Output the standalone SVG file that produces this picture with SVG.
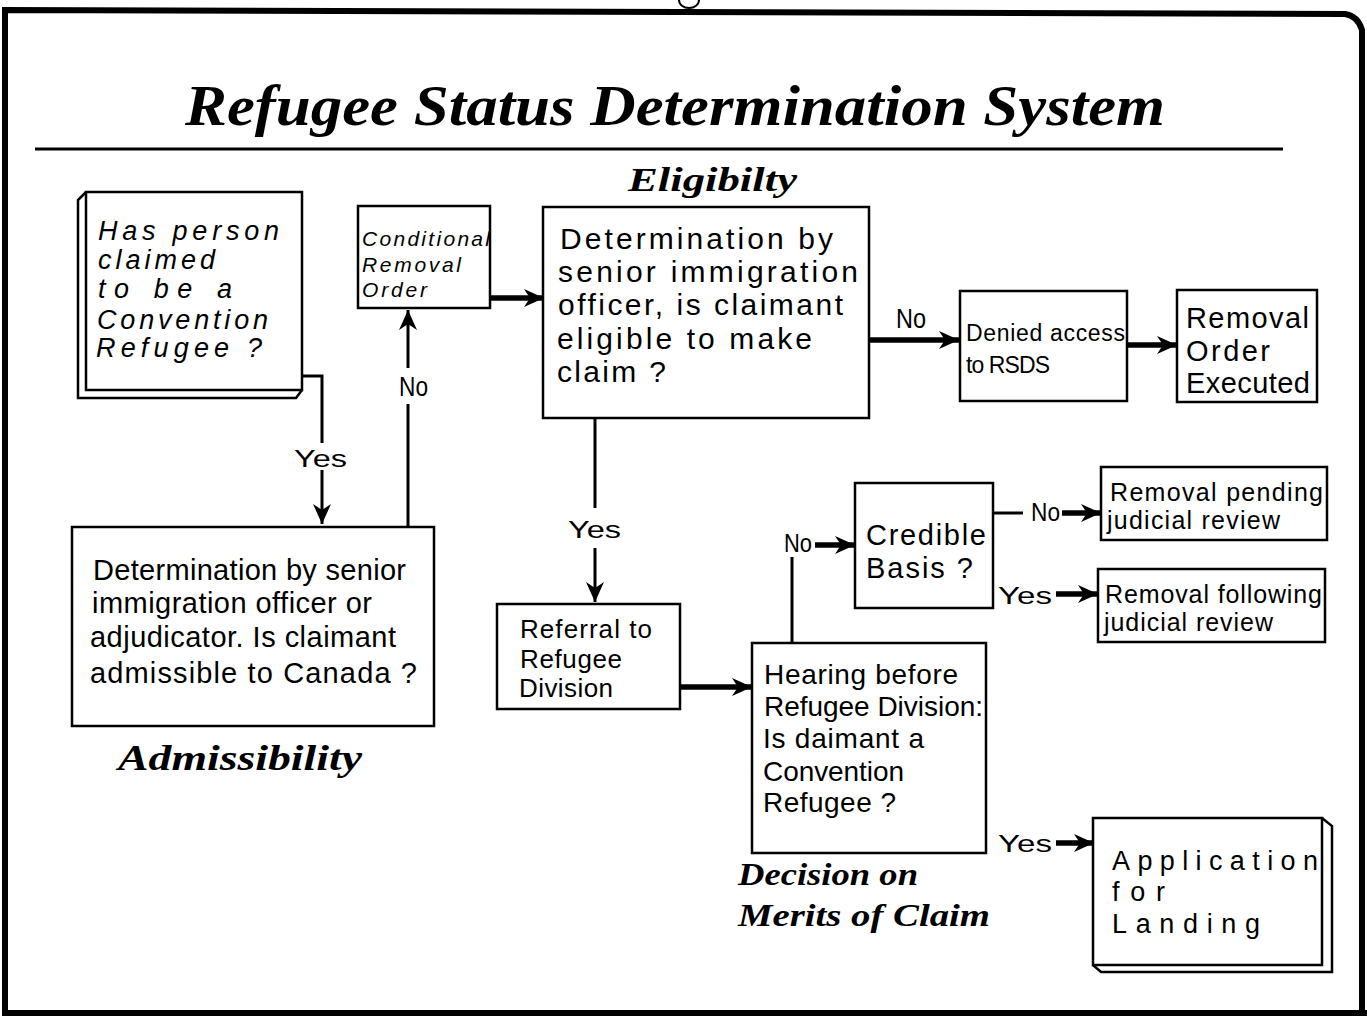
<svg xmlns="http://www.w3.org/2000/svg" width="1367" height="1017" viewBox="0 0 1367 1017">
<defs>
<style>
.box{fill:#fff;stroke:#000;stroke-width:2.5}
.t{font-family:"Liberation Sans","DejaVu Sans",sans-serif;fill:#000}
.it{font-family:"Liberation Sans","DejaVu Sans",sans-serif;font-style:italic;fill:#000}
.scr{font-family:"Liberation Serif","DejaVu Serif",serif;font-style:italic;font-weight:bold;fill:#000}
.lbl{font-family:"Liberation Sans","DejaVu Sans",sans-serif;fill:#000}
.ln{fill:none;stroke:#000;stroke-width:3}
.thk{fill:none;stroke:#000;stroke-width:5.5}
</style>
<marker id="ah" markerUnits="userSpaceOnUse" markerWidth="22" markerHeight="20" refX="20" refY="10" orient="auto" viewBox="0 0 22 20">
<path d="M0,1 L20,10 L0,19 L6,10 z" fill="#000"/>
</marker>
</defs>
<rect width="1367" height="1017" fill="#fff"/>
<!-- frame -->
<path d="M5,1013 V10 L1345,14 Q1358,16 1362,30 V1013" fill="none" stroke="#000" stroke-width="6"/>
<line x1="2" y1="1013" x2="1367" y2="1013" stroke="#000" stroke-width="6"/>
<path d="M679,0 A10,8 0 0 0 699,0" fill="none" stroke="#000" stroke-width="2"/>
<!-- title -->
<text class="scr" x="185" y="125" font-size="56" textLength="980" lengthAdjust="spacingAndGlyphs">Refugee  Status  Determination  System</text>
<line x1="35" y1="149" x2="1283" y2="149" stroke="#000" stroke-width="3"/>
<text class="scr" x="628" y="191" font-size="34" textLength="169" lengthAdjust="spacingAndGlyphs">Eligibilty</text>
<text class="scr" x="118" y="770" font-size="36" textLength="244" lengthAdjust="spacingAndGlyphs">Admissibility</text>
<text class="scr" x="738" y="885" font-size="32" textLength="180" lengthAdjust="spacingAndGlyphs">Decision  on</text>
<text class="scr" x="738" y="926" font-size="32" textLength="252" lengthAdjust="spacingAndGlyphs">Merits  of  Claim</text>

<g id="connectors">
<path class="ln" d="M300,376 H322 V443"/>
<path class="ln" d="M322,470 V524" marker-end="url(#ah)"/>
<path class="ln" d="M408,527 V404"/>
<path class="ln" d="M408,368 V310" marker-end="url(#ah)"/>
<path class="thk" d="M490,298 H544" marker-end="url(#ah)"/>
<path class="thk" d="M868,340 H959" marker-end="url(#ah)"/>
<path class="thk" d="M1127,345 H1177" marker-end="url(#ah)"/>
<path class="ln" d="M595,418 V508"/>
<path class="ln" d="M595,548 V602" marker-end="url(#ah)"/>
<path class="thk" d="M680,687 H752" marker-end="url(#ah)"/>
<path class="ln" d="M792,643 V557"/>
<path class="thk" d="M815,545 H855" marker-end="url(#ah)"/>
<path class="ln" d="M993,513 H1023"/>
<path class="thk" d="M1062,513 H1101" marker-end="url(#ah)"/>
<path class="thk" d="M1056,594 H1098" marker-end="url(#ah)"/>
<path class="thk" d="M1056,843 H1094" marker-end="url(#ah)"/>
<text class="lbl" x="294" y="467" font-size="24" textLength="53" lengthAdjust="spacingAndGlyphs">Yes</text>
<text class="lbl" x="399" y="396" font-size="28" textLength="29" lengthAdjust="spacingAndGlyphs">No</text>
<text class="lbl" x="568" y="538" font-size="24" textLength="53" lengthAdjust="spacingAndGlyphs">Yes</text>
<text class="lbl" x="896" y="328" font-size="28" textLength="30" lengthAdjust="spacingAndGlyphs">No</text>
<text class="lbl" x="784" y="552" font-size="26" textLength="28" lengthAdjust="spacingAndGlyphs">No</text>
<text class="lbl" x="1031" y="521" font-size="26" textLength="29" lengthAdjust="spacingAndGlyphs">No</text>
<text class="lbl" x="998" y="604" font-size="24" textLength="54" lengthAdjust="spacingAndGlyphs">Yes</text>
<text class="lbl" x="998" y="852" font-size="24" textLength="54" lengthAdjust="spacingAndGlyphs">Yes</text>
</g>

<g id="n-claimed">
<path d="M86,192 L78,200 V398 H296 L302,390" fill="#fff" stroke="#000" stroke-width="2.5"/>
<rect class="box" x="86" y="192" width="216" height="198"/>
<text class="it" font-size="27" lengthAdjust="spacingAndGlyphs">
<tspan x="98" y="240" textLength="181">Has person</tspan>
<tspan x="98" y="269" textLength="117">claimed</tspan>
<tspan x="98" y="298" textLength="134">to be a</tspan>
<tspan x="97" y="329" textLength="171">Convention</tspan>
<tspan x="96" y="357" textLength="166">Refugee ?</tspan>
</text>
</g>

<g id="n-cro">
<rect class="box" x="358" y="206" width="132" height="102"/>
<text class="it" font-size="21" lengthAdjust="spacingAndGlyphs">
<tspan x="362" y="246" textLength="128">Conditional</tspan>
<tspan x="362" y="272" textLength="99">Removal</tspan>
<tspan x="362" y="297" textLength="65">Order</tspan>
</text>
</g>

<g id="n-eligibility">
<rect class="box" x="543" y="207" width="326" height="211"/>
<text class="t" font-size="30" lengthAdjust="spacingAndGlyphs">
<tspan x="560" y="249" textLength="273">Determination by</tspan>
<tspan x="558" y="282" textLength="300">senior immigration</tspan>
<tspan x="558" y="315" textLength="285">officer, is claimant</tspan>
<tspan x="557" y="349" textLength="255">eligible to make</tspan>
<tspan x="557" y="382" textLength="109">claim ?</tspan>
</text>
</g>

<g id="n-denied">
<rect class="box" x="960" y="291" width="167" height="110"/>
<text class="t" font-size="23" lengthAdjust="spacingAndGlyphs">
<tspan x="966" y="341" textLength="159">Denied access</tspan>
<tspan x="966" y="373" textLength="84">to RSDS</tspan>
</text>
</g>

<g id="n-executed">
<rect class="box" x="1177" y="290" width="140" height="112"/>
<text class="t" font-size="29" lengthAdjust="spacingAndGlyphs">
<tspan x="1186" y="328" textLength="123">Removal</tspan>
<tspan x="1186" y="361" textLength="84">Order</tspan>
<tspan x="1186" y="393" textLength="124">Executed</tspan>
</text>
</g>

<g id="n-admissibility">
<rect class="box" x="72" y="527" width="362" height="199"/>
<text class="t" font-size="29" lengthAdjust="spacingAndGlyphs">
<tspan x="93" y="580" textLength="313">Determination by senior</tspan>
<tspan x="92" y="613" textLength="280">immigration officer or</tspan>
<tspan x="90" y="647" textLength="306">adjudicator. Is claimant</tspan>
<tspan x="90" y="683" textLength="327">admissible to  Canada  ?</tspan>
</text>
</g>

<g id="n-referral">
<rect class="box" x="497" y="604" width="183" height="105"/>
<text class="t" font-size="26" lengthAdjust="spacingAndGlyphs">
<tspan x="520" y="638" textLength="132">Referral  to</tspan>
<tspan x="520" y="668" textLength="102">Refugee</tspan>
<tspan x="519" y="697" textLength="94">Division</tspan>
</text>
</g>

<g id="n-hearing">
<rect class="box" x="752" y="643" width="234" height="210"/>
<text class="t" font-size="28" lengthAdjust="spacingAndGlyphs">
<tspan x="764" y="684" textLength="194">Hearing before</tspan>
<tspan x="764" y="716" textLength="219">Refugee Division:</tspan>
<tspan x="763" y="748" textLength="161">Is daimant a</tspan>
<tspan x="763" y="781" textLength="141">Convention</tspan>
<tspan x="763" y="812" textLength="133">Refugee  ?</tspan>
</text>
</g>

<g id="n-credible">
<rect class="box" x="855" y="483" width="138" height="125"/>
<text class="t" font-size="29" lengthAdjust="spacingAndGlyphs">
<tspan x="866" y="545" textLength="120">Credible</tspan>
<tspan x="866" y="578" textLength="107">Basis  ?</tspan>
</text>
</g>

<g id="n-pending">
<rect class="box" x="1101" y="467" width="226" height="73"/>
<text class="t" font-size="25" lengthAdjust="spacingAndGlyphs">
<tspan x="1110" y="501" textLength="213">Removal pending</tspan>
<tspan x="1107" y="529" textLength="173">judicial review</tspan>
</text>
</g>

<g id="n-following">
<rect class="box" x="1098" y="569" width="227" height="73"/>
<text class="t" font-size="25" lengthAdjust="spacingAndGlyphs">
<tspan x="1105" y="603" textLength="217">Removal following</tspan>
<tspan x="1104" y="631" textLength="169">judicial review</tspan>
</text>
</g>

<g id="n-landing">
<path d="M1322,818 L1332,826 V972 H1101 L1093,965" fill="#fff" stroke="#000" stroke-width="2.5"/>
<rect class="box" x="1093" y="818" width="229" height="147"/>
<text class="t" font-size="27" lengthAdjust="spacingAndGlyphs">
<tspan x="1112" y="870" textLength="206">Application</tspan>
<tspan x="1112" y="901" textLength="53">for</tspan>
<tspan x="1112" y="933" textLength="148">Landing</tspan>
</text>
</g>
</svg>
